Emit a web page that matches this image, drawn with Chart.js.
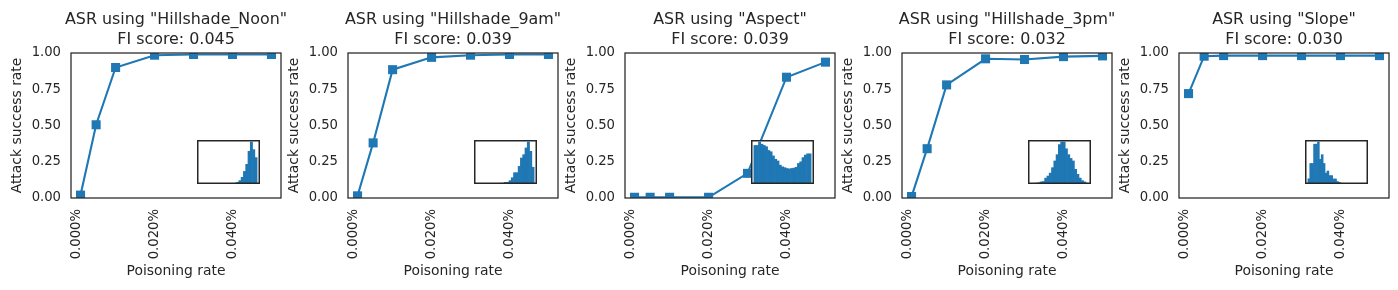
<!DOCTYPE html>
<html><head><meta charset="utf-8">
<script src="https://cdn.jsdelivr.net/npm/chart.js@4.4.1/dist/chart.umd.min.js"></script>
<style>
html,body{margin:0;padding:0;background:#fff;}
#wrap{position:relative;width:1398px;height:290px;overflow:hidden;background:#fff;}
#wrap canvas{position:absolute;top:0;}
</style></head><body><div id="wrap"></div>
<script>
// ---- data ----
const poisoningRates = [0.001, 0.005, 0.01, 0.02, 0.03, 0.04, 0.05]; // percent
const xTickValues = [0, 0.02, 0.04];
const yTickValues = [0, 0.25, 0.5, 0.75, 1];
const featureNames = ["Hillshade_Noon", "Hillshade_9am", "Aspect", "Hillshade_3pm", "Slope"];
const fiScores = ["0.045", "0.039", "0.039", "0.032", "0.030"];

const asrHillshadeNoon = [0.02, 0.505, 0.90, 0.985, 0.99, 0.99, 0.99];
const asrHillshade9am  = [0.015, 0.38, 0.885, 0.97, 0.985, 0.99, 0.99];
const asrAspect        = [0.005, 0.005, 0.005, 0.005, 0.17, 0.833, 0.937];
const asrHillshade3pm  = [0.01, 0.34, 0.78, 0.96, 0.955, 0.975, 0.98];
const asrSlope         = [0.72, 0.978, 0.982, 0.982, 0.982, 0.982, 0.982];

// inset histograms (relative bin heights)
const histHillshadeNoon = [0,0,0,0,0,0,0,0,0,0,0,0,0,0,0.01,0.02,0.04,0.08,0.16,0.30,0.47,0.78,1.0,0.82,0.63];
const histHillshade9am  = [0,0,0,0,0,0,0,0,0,0,0.02,0.02,0.04,0.04,0.08,0.15,0.27,0.27,0.42,0.62,0.70,0.86,1.0,0.78,0.40];
const histAspect        = [0.92,0.92,1.0,0.95,0.92,0.89,0.80,0.77,0.67,0.59,0.55,0.45,0.41,0.39,0.37,0.36,0.37,0.38,0.40,0.49,0.53,0.63,0.69,0.72,0.72];
const histHillshade3pm  = [0.01,0.01,0.02,0.03,0.05,0.06,0.14,0.19,0.26,0.39,0.55,0.70,0.94,1.0,1.0,0.84,0.70,0.61,0.55,0.35,0.23,0.14,0.08,0.05,0.02];
const histSlope         = [0.125,0.49,0.49,0.95,0.95,1.0,0.59,0.70,0.49,0.26,0.31,0.20,0.20,0.12,0.12,0.06,0.04,0.02,0,0,0,0,0,0,0,0,0,0,0,0];

const asrSeries = [asrHillshadeNoon, asrHillshade9am, asrAspect, asrHillshade3pm, asrSlope];
const histSeries = [histHillshadeNoon, histHillshade9am, histAspect, histHillshade3pm, histSlope];

// ---- style ----
const FONT = "'DejaVu Sans', 'Liberation Sans', sans-serif";
const TXT = '#262626';
const BLUE = '#1f77b4';
const panelLefts = [0, 277, 554, 831, 1108];
const CW = 290, CH = 290;

const framePlugin = {
  id: 'frame',
  afterDatasetsDraw(chart) {
    const {ctx, chartArea: a} = chart;
    ctx.save();
    ctx.strokeStyle = TXT;
    ctx.lineWidth = 1.25;
    ctx.strokeRect(a.left, a.top, a.right - a.left, a.bottom - a.top);
    ctx.restore();
  }
};
const panelTitle = {
  id: 'panelTitle',
  afterDraw(chart, args, opts) {
    const {ctx, chartArea: a} = chart;
    ctx.save();
    ctx.fillStyle = TXT;
    ctx.font = '15.9px ' + FONT;
    ctx.textAlign = 'center';
    ctx.textBaseline = 'alphabetic';
    const cx = (a.left + a.right) / 2;
    (opts.lines || []).forEach((t, k) => ctx.fillText(t, cx, 24 + k * 20.3));
    ctx.restore();
  }
};
const whiteBg = {
  id: 'whiteBg',
  beforeDraw(chart) {
    const {ctx, width, height} = chart;
    ctx.save(); ctx.fillStyle = '#fff'; ctx.fillRect(0, 0, width, height); ctx.restore();
  }
};
const insetFrame = {
  id: 'insetFrame',
  afterDraw(chart) {
    const {ctx, width, height} = chart;
    ctx.save(); ctx.strokeStyle = TXT; ctx.lineWidth = 1.5;
    ctx.strokeRect(0.75, 0.75, width - 1.5, height - 1.5); ctx.restore();
  }
};

Chart.defaults.font.family = FONT;
Chart.defaults.color = TXT;

const wrap = document.getElementById('wrap');

featureNames.forEach((name, i) => {
  const c = document.createElement('canvas');
  c.width = CW; c.height = CH;
  c.style.left = panelLefts[i] + 'px';
  c.style.width = CW + 'px'; c.style.height = CH + 'px';
  wrap.appendChild(c);
  const vals = asrSeries[i];
  const chart = new Chart(c, {
    type: 'line',
    data: {
      datasets: [{
        data: poisoningRates.map((x, k) => ({x: x, y: vals[k]})),
        borderColor: BLUE, backgroundColor: BLUE,
        borderWidth: 2.1, tension: 0,
        pointStyle: 'rect', pointRadius: 6.4, pointHoverRadius: 6.4,
        pointBackgroundColor: BLUE, pointBorderColor: BLUE, pointBorderWidth: 0,
        clip: 0
      }]
    },
    options: {
      responsive: false, animation: false, devicePixelRatio: 1,
      layout: {padding: {left: 0, right: 9, top: 53, bottom: 0}},
      plugins: {
        legend: {display: false}, tooltip: {enabled: false}, title: {display: false},
        panelTitle: {lines: ['ASR using "' + name + '"', 'FI score: ' + fiScores[i]]}
      },
      scales: {
        x: {
          type: 'linear', min: -0.00145, max: 0.05245,
          grid: {display: false, drawTicks: false}, border: {display: false},
          afterBuildTicks: s => { s.ticks = xTickValues.map(v => ({value: v})); },
          afterFit: s => { s.height = 92; },
          ticks: {
            autoSkip: false, minRotation: 90, maxRotation: 90, padding: 11,
            color: TXT, font: {family: FONT, size: 13.2},
            callback: v => v.toFixed(3) + '%'
          },
          title: {display: true, text: 'Poisoning rate', color: TXT,
                  font: {family: FONT, size: 13.9}, padding: {top: 0, bottom: 10.4}}
        },
        y: {
          type: 'linear', min: 0, max: 1,
          grid: {display: false, drawTicks: false}, border: {display: false},
          afterBuildTicks: s => { s.ticks = yTickValues.map(v => ({value: v})); },
          afterFit: s => { s.width = 71; },
          ticks: {padding: 10, color: TXT, font: {family: FONT, size: 13.2},
                  callback: v => v.toFixed(2)},
          title: {display: true, text: 'Attack success rate', color: TXT,
                  font: {family: FONT, size: 13.9}, padding: {top: 8.8, bottom: 0}}
        }
      }
    },
    plugins: [framePlugin, panelTitle]
  });

  // inset histogram at [0.6, 0.1, 0.3, 0.3] of the axes
  const a = chart.chartArea;
  const w = a.right - a.left, h = a.bottom - a.top;
  const il = Math.round(panelLefts[i] + a.left + 0.6 * w);
  const it = Math.round(a.top + 0.6 * h);
  const iw = Math.round(0.3 * w), ih = Math.round(0.3 * h);
  const ic = document.createElement('canvas');
  ic.width = iw; ic.height = ih;
  ic.style.left = il + 'px'; ic.style.top = it + 'px';
  ic.style.width = iw + 'px'; ic.style.height = ih + 'px';
  wrap.appendChild(ic);
  const hist = histSeries[i];
  const N = hist.length;
  const hmax = Math.max(...hist);
  new Chart(ic, {
    type: 'bar',
    data: {
      datasets: [{
        data: hist.map((v, k) => ({x: k + 0.5, y: v})),
        backgroundColor: BLUE, borderWidth: 0,
        barPercentage: 1, categoryPercentage: 1
      }]
    },
    options: {
      responsive: false, animation: false, devicePixelRatio: 1,
      layout: {padding: 0},
      plugins: {legend: {display: false}, tooltip: {enabled: false}, title: {display: false}},
      scales: {
        x: {type: 'linear', display: false, offset: false, min: -0.05 * N, max: 1.05 * N},
        y: {type: 'linear', display: false, min: 0, max: hmax * 1.05}
      }
    },
    plugins: [whiteBg, insetFrame]
  });
});
</script>
</body></html>
